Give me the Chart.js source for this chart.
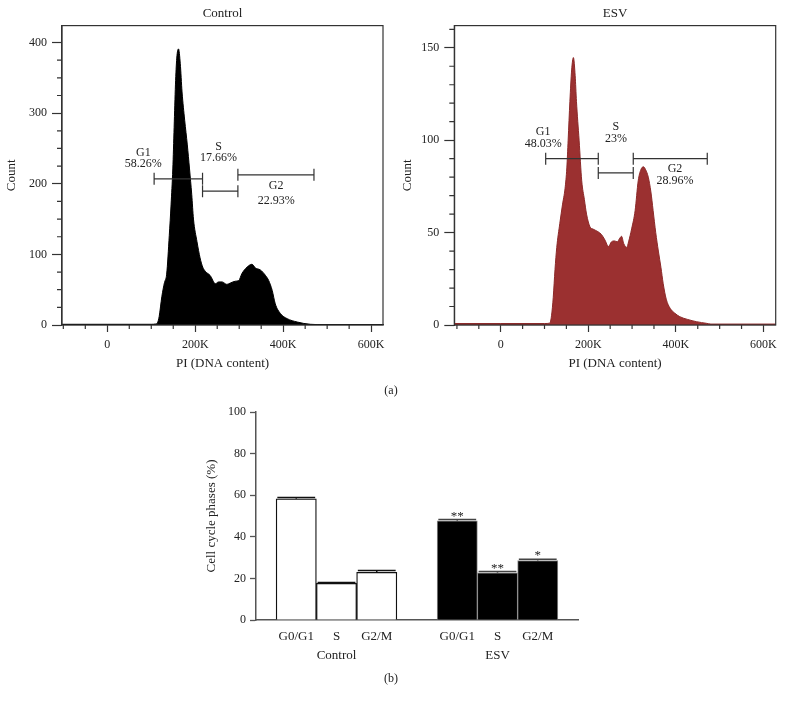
<!DOCTYPE html>
<html>
<head>
<meta charset="utf-8">
<script src="https://cdn.jsdelivr.net/npm/chart.js@4.4.1/dist/chart.umd.min.js"></script>
<style>
  html, body { margin: 0; padding: 0; background: #fff; }
  body { width: 785px; height: 705px; position: relative; overflow: hidden; font-family: "Liberation Serif", "Times New Roman", serif; }
  .box { position: absolute; }
  .cap { position: absolute; font-size: 12px; color: #222; transform: translate(-50%, -50%); white-space: nowrap; }
</style>
</head>
<body>
<div class="box" style="left:0;top:0;width:392px;height:374px"><canvas id="histControl"></canvas></div>
<div class="box" style="left:396px;top:0;width:389px;height:374px"><canvas id="histEsv"></canvas></div>
<div class="box" style="left:200px;top:395px;width:385px;height:310px"><canvas id="barChart"></canvas></div>
<div class="cap" style="left:391px;top:390px">(a)</div>
<div class="cap" style="left:391px;top:678px">(b)</div>

<script>
// ---- histogram data (PI in thousands, counts) ----
const controlPI = [-103, 0, 100, 110, 114, 118, 124, 130, 135, 141, 145, 149, 152, 155, 158, 162, 166, 170, 176, 182,
    187, 192, 196, 204, 211, 217, 223, 234, 246, 253, 261, 272, 280, 291, 299, 306, 318, 329, 337, 348,
    360, 367, 375, 382, 394, 409, 432, 462, 493, 627];
const controlCount = [1, 1, 1, 1.5, 3, 12, 40, 60, 72, 127, 170, 221, 280, 340, 378, 391, 370, 330, 290, 255,
    221, 185, 150, 118, 95, 82, 76, 70, 58.5, 61, 61, 57.5, 59.5, 62, 63, 72.7, 82, 86, 80.6, 78,
    70, 63, 49, 30, 16, 9, 4.2, 1, 0.5, 0.5];

const esvPI = [-106, 0, 100, 112, 116, 120, 124, 128, 135, 141, 147, 151, 154, 158, 162, 166, 170, 173, 179, 185,
    191, 196, 204, 210, 222, 230, 238, 246, 253, 260, 266, 272, 276, 281, 288, 292, 299, 307, 314, 320,
    326, 331, 337, 343, 348, 354, 360, 366, 371, 378, 387, 397, 409, 427, 447, 470, 480, 628];
const esvCount = [0.8, 0.8, 0.8, 1, 5, 15, 30, 42, 55, 65, 74, 85, 100, 121, 138, 144.7, 135, 121, 100, 78,
    68, 60, 53, 52, 50.5, 49, 46, 42.5, 45, 45.5, 45, 47, 48, 44, 42, 45, 52, 62, 78, 84,
    85.6, 84, 80, 72, 62, 50, 40, 31, 22.5, 14, 9, 6.5, 4.5, 3, 1.8, 0.9, 0.5, 0.5];

// gates (brackets) on the histograms
const gateNames = ['G1', 'S', 'G2'];
const controlGatePct = ['58.26%', '17.66%', '22.93%'];
const controlGateFrom = [106.5, 216.6, 297];
const controlGateTo = [216.6, 297, 470];
const controlGateLevel = [207, 189.5, 212.7];
const esvGatePct = ['48.03%', '23%', '28.96%'];
const esvGateFrom = [102.7, 222.8, 302.7];
const esvGateTo = [222.8, 302.7, 471.7];
const esvGateLevel = [90, 82.3, 90];

// ---- bar chart data ----
const phases = ['G0/G1', 'S', 'G2/M'];
const groups = ['Control', 'ESV'];
const controlMean = [58.26, 17.66, 22.93];
const controlErr = [0.6, 0.4, 0.9];
const esvMean = [47.7, 22.7, 28.6];
const esvErr = [0.6, 0.6, 0.6];
const esvStars = ['**', '**', '*'];

const SERIF = '"Liberation Serif", "Times New Roman", serif';
Chart.defaults.font.family = SERIF;
Chart.defaults.font.size = 12;
Chart.defaults.color = '#222';

const histDecor = {
    id: 'histDecor',
    afterDraw(chart, args, opts) {
        const { ctx, chartArea: a, scales: { x, y } } = chart;
        ctx.save();
        ctx.strokeStyle = '#333';
        ctx.lineWidth = 1.2;
        ctx.strokeRect(a.left, a.top, a.right - a.left, a.bottom - a.top);

        // minor ticks
        ctx.beginPath();
        x.ticks.forEach(t => {
            if (t.value % 200 === 0) return;
            const px = x.getPixelForValue(t.value);
            ctx.moveTo(px, a.bottom); ctx.lineTo(px, a.bottom + 4);
        });
        y.ticks.forEach(t => {
            if (t.value % opts.yMajor === 0) return;
            const py = y.getPixelForValue(t.value);
            ctx.moveTo(a.left - 5, py); ctx.lineTo(a.left, py);
        });
        ctx.stroke();

        // gate brackets
        ctx.beginPath();
        opts.from.forEach((f, i) => {
            const x1 = x.getPixelForValue(f), x2 = x.getPixelForValue(opts.to[i]);
            const yy = y.getPixelForValue(opts.level[i]);
            ctx.moveTo(x1, yy); ctx.lineTo(x2, yy);
            ctx.moveTo(x1, yy - 6); ctx.lineTo(x1, yy + 6);
            ctx.moveTo(x2, yy - 6); ctx.lineTo(x2, yy + 6);
        });
        ctx.stroke();

        ctx.font = '12px ' + SERIF;
        ctx.fillStyle = '#222';
        ctx.textAlign = 'center';
        ctx.textBaseline = 'middle';
        opts.labels.forEach((l, i) => {
            const px = x.getPixelForValue(l.x);
            ctx.fillText(gateNames[i], px, y.getPixelForValue(l.y1));
            ctx.fillText(opts.pct[i], px, y.getPixelForValue(l.y2));
        });
        ctx.restore();
    }
};

function makeHistogram(id, title, pi, counts, cfg) {
    const points = pi.map((v, i) => ({ x: v, y: counts[i] }));
    return new Chart(document.getElementById(id), {
        type: 'line',
        data: {
            datasets: [{
                data: points,
                fill: 'origin',
                backgroundColor: cfg.fill,
                borderColor: cfg.stroke,
                borderWidth: 1,
                pointRadius: 0,
                cubicInterpolationMode: 'monotone'
            }]
        },
        options: {
            responsive: true,
            maintainAspectRatio: false,
            animation: false,
            layout: { padding: { right: cfg.rightPad, left: 0, top: 0, bottom: 0 } },
            plugins: {
                legend: { display: false },
                tooltip: { enabled: false },
                title: {
                    display: true, text: title, fullSize: false, color: '#222',
                    font: { size: 13, weight: 'normal' },
                    padding: { top: 6, bottom: 4 }
                },
                histDecor: cfg.decor
            },
            scales: {
                x: {
                    type: 'linear', min: cfg.xMin, max: cfg.xMax,
                    ticks: {
                        stepSize: 50, includeBounds: false, autoSkip: false, maxRotation: 0, padding: 6,
                        callback: v => v % 200 === 0 ? (v === 0 ? '0' : v + 'K') : ''
                    },
                    grid: {
                        drawOnChartArea: false, tickLength: 7, tickWidth: 1.2,
                        tickColor: c => (c.tick && c.tick.value % 200 === 0) ? '#333' : 'rgba(0,0,0,0)'
                    },
                    border: { color: '#333', width: 1.2 },
                    title: { display: true, text: 'PI (DNA content)', font: { size: 13 }, padding: { top: 4, bottom: 3 } },
                    afterFit: s => { s.height = 49; }
                },
                y: {
                    min: 0, max: cfg.yMax,
                    ticks: {
                        stepSize: cfg.yStep, includeBounds: false, autoSkip: false, padding: 5,
                        callback: v => v % cfg.decor.yMajor === 0 ? v : ''
                    },
                    grid: {
                        drawOnChartArea: false, tickLength: 10, tickWidth: 1.2,
                        tickColor: c => (c.tick && c.tick.value % cfg.decor.yMajor === 0) ? '#333' : 'rgba(0,0,0,0)'
                    },
                    border: { color: '#333', width: 1.2 },
                    title: { display: true, text: 'Count', font: { size: 13 }, padding: { top: 4, bottom: 4 } },
                    afterFit: s => { s.width = cfg.yWidth; }
                }
            }
        },
        plugins: [histDecor]
    });
}

makeHistogram('histControl', 'Control', controlPI, controlCount, {
    fill: '#000', stroke: '#000', rightPad: 9, yWidth: 62,
    xMin: -103, xMax: 627, yMax: 424, yStep: 25,
    decor: {
        yMajor: 100, from: controlGateFrom, to: controlGateTo, level: controlGateLevel, pct: controlGatePct,
        labels: [{ x: 82, y1: 243.6, y2: 228.3 }, { x: 253, y1: 252.8, y2: 237.2 }, { x: 384, y1: 197, y2: 176.4 }]
    }
});

makeHistogram('histEsv', 'ESV', esvPI, esvCount, {
    fill: '#9b3030', stroke: '#8c2a2a', rightPad: 9.3, yWidth: 58.3,
    xMin: -106, xMax: 628, yMax: 162, yStep: 10,
    decor: {
        yMajor: 50, from: esvGateFrom, to: esvGateTo, level: esvGateLevel, pct: esvGatePct,
        labels: [{ x: 97, y1: 104.5, y2: 97.8 }, { x: 263, y1: 107.2, y2: 100.9 }, { x: 398, y1: 84.7, y2: 78 }]
    }
});

// ---- bar chart ----
// slots: 0 (edge), 1-3 control, 4 gap, 5-7 ESV, 8 (edge)
const slotLabels = [''];
groups.forEach((g, gi) => {
    if (gi > 0) slotLabels.push('');
    phases.forEach((p, pi) => slotLabels.push([p, pi === 1 ? g : '']));
});
slotLabels.push('');
const controlData = controlMean.map((v, i) => ({ x: i + 1, y: v }));
const esvData = esvMean.map((v, i) => ({ x: i + 5, y: v }));

const barDecor = {
    id: 'barDecor',
    afterDatasetsDraw(chart) {
        const { ctx, scales: { y } } = chart;
        ctx.save();
        chart.data.datasets.forEach((ds, di) => {
            const meta = chart.getDatasetMeta(di);
            meta.data.forEach((bar, i) => {
                const top = y.getPixelForValue(ds.data[i].y + ds.errors[i]);
                const half = bar.width * 0.47;
                ctx.strokeStyle = ds.errColor;
                ctx.lineWidth = 1.5;
                ctx.beginPath();
                ctx.moveTo(bar.x, bar.y); ctx.lineTo(bar.x, top);
                ctx.moveTo(bar.x - half, top); ctx.lineTo(bar.x + half, top);
                ctx.stroke();
                if (ds.stars && ds.stars[i]) {
                    ctx.font = '13px ' + SERIF;
                    ctx.fillStyle = '#222';
                    ctx.textAlign = 'center';
                    ctx.textBaseline = 'alphabetic';
                    ctx.fillText(ds.stars[i], bar.x, top);
                }
            });
        });
        ctx.restore();
    }
};

new Chart(document.getElementById('barChart'), {
    type: 'bar',
    data: {
        datasets: [
            {
                label: groups[0], data: controlData, errors: controlErr, errColor: '#111',
                backgroundColor: '#fff', borderColor: '#111', borderWidth: 1.3,
                grouped: false, barPercentage: 1, categoryPercentage: 1
            },
            {
                label: groups[1], data: esvData, errors: esvErr, stars: esvStars, errColor: '#444',
                backgroundColor: '#000', borderColor: '#8a8a8a', borderWidth: 1,
                grouped: false, barPercentage: 1, categoryPercentage: 1
            }
        ]
    },
    options: {
        responsive: true,
        maintainAspectRatio: false,
        animation: false,
        layout: { padding: { top: 17, right: 5, left: 0, bottom: 0 } },
        plugins: { legend: { display: false }, tooltip: { enabled: false } },
        scales: {
            x: {
                type: 'linear', min: 0, max: 8, offset: false,
                grid: { display: false, drawTicks: false },
                border: { color: '#555', width: 1.5 },
                ticks: {
                    stepSize: 1, autoSkip: false, maxRotation: 0, padding: 7,
                    font: { size: 13, lineHeight: 1.48 },
                    callback: v => slotLabels[v]
                },
                afterFit: s => { s.height = 85; }
            },
            y: {
                min: 0, max: 100,
                ticks: { stepSize: 20, padding: 4 },
                grid: { drawOnChartArea: false, tickLength: 6, tickColor: '#555', tickWidth: 1.3 },
                border: { color: '#555', width: 1.5 },
                title: { display: true, text: 'Cell cycle phases (%)', font: { size: 13 }, padding: { top: 4, bottom: 4 } },
                afterFit: s => { s.width = 56; }
            }
        }
    },
    plugins: [barDecor]
});
</script>
</body>
</html>
